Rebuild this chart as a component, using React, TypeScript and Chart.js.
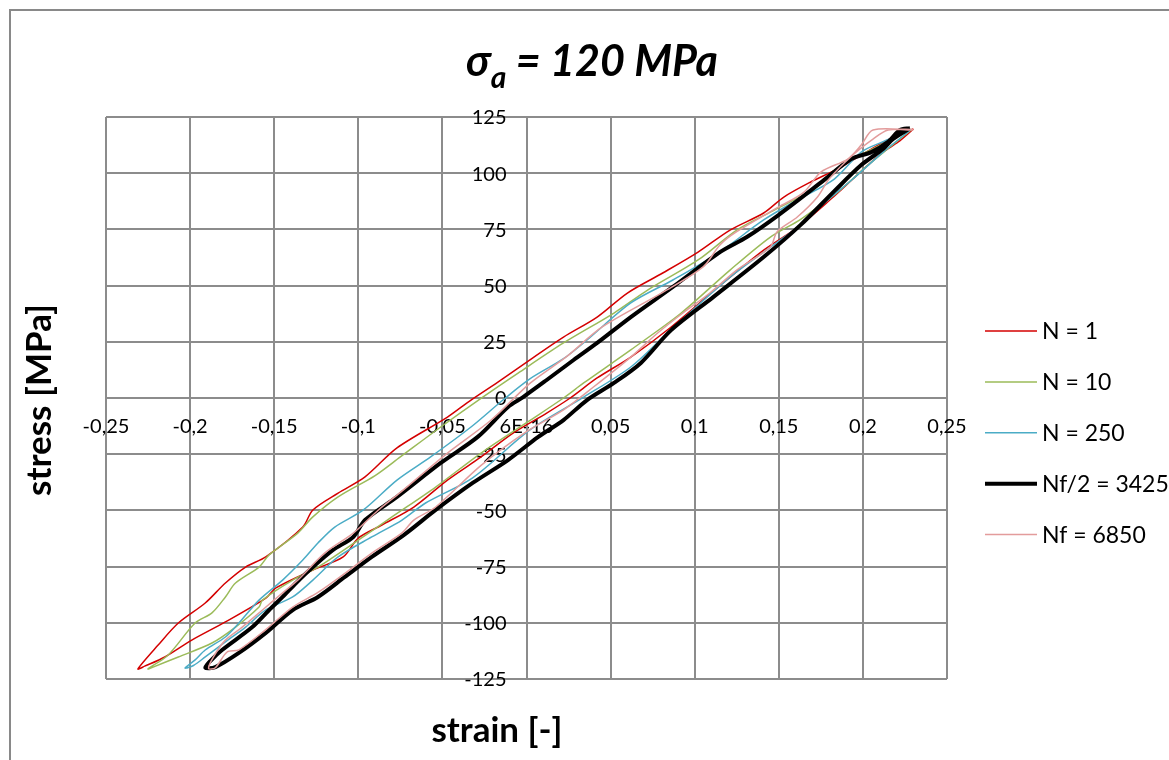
import { useEffect, useRef } from "react";
import { Chart, registerables } from "chart.js";

Chart.register(...registerables);

const FONT = "Lato, 'Open Sans', sans-serif";
const GRID = "#8c8c8c";

const titleSymbol = "σ";
const titleSub = "a";
const titleRest = " = 120 MPa";
const xTitle = "strain [-]";
const yTitle = "stress [MPa]";

const xTickLabels = ["-0,25", "-0,2", "-0,15", "-0,1", "-0,05", "6E-16", "0,05", "0,1", "0,15", "0,2", "0,25"];
const yTickLabels = ["-125", "-100", "-75", "-50", "-25", "0", "25", "50", "75", "100", "125"];

const seriesLabels = ["N = 1", "N = 10", "N = 250", "Nf/2 = 3425", "Nf = 6850"];
const seriesColors = ["#d40000", "#9bbb59", "#4bacc6", "#000000", "#e39c9c"];
const seriesWidths = [1.5, 1.5, 1.5, 4, 1.5];

// N = 1 : unloading branch (top -> bottom) then loading branch (bottom -> top)
const n1: number[][] = [
  [0.230, 119.7], [0.221, 117.0], [0.209, 112.5], [0.199, 108.1], [0.185, 101.9], [0.169, 96.1],
  [0.153, 89.4], [0.141, 82.3], [0.121, 74.7], [0.102, 64.9], [0.081, 55.6], [0.060, 46.7],
  [0.042, 36.0], [0.022, 27.1], [0.004, 18.0], [-0.017, 7.1], [-0.033, -0.9], [-0.047, -8.5],
  [-0.077, -22.2], [-0.096, -35.1], [-0.112, -42.3], [-0.127, -49.8], [-0.133, -57.4],
  [-0.155, -70.7], [-0.167, -75.2], [-0.179, -82.3], [-0.191, -91.2], [-0.207, -100.1],
  [-0.219, -109.9], [-0.231, -120.5],
  [-0.227, -119.3], [-0.215, -115.2], [-0.199, -107.7], [-0.179, -99.6], [-0.155, -89.0],
  [-0.149, -84.5], [-0.127, -76.5], [-0.109, -70.7], [-0.100, -62.3], [-0.086, -56.5],
  [-0.067, -48.5], [-0.047, -36.5], [-0.027, -26.2], [-0.008, -15.6], [0.012, -6.7], [0.026, 0.0],
  [0.042, 8.9], [0.062, 18.2], [0.086, 31.6], [0.114, 49.4], [0.141, 65.8], [0.161, 75.8],
  [0.181, 88.5], [0.194, 97.4], [0.203, 103.6], [0.212, 109.4], [0.221, 113.9], [0.230, 119.7],
];

const n10: number[][] = [
  [0.229, 119.5], [0.205, 110.5], [0.191, 105.0], [0.171, 93.0], [0.145, 82.7], [0.125, 74.7],
  [0.102, 61.4], [0.072, 48.0], [0.052, 37.8], [0.022, 24.5], [-0.005, 11.1], [-0.026, 0.4],
  [-0.051, -12.9], [-0.075, -26.2], [-0.090, -34.5], [-0.112, -44.0], [-0.127, -52.9],
  [-0.136, -60.1], [-0.153, -69.8], [-0.159, -75.2], [-0.173, -82.3], [-0.179, -88.5],
  [-0.187, -95.6], [-0.197, -100.1], [-0.213, -114.3], [-0.225, -120.5],
  [-0.222, -119.7], [-0.207, -115.2], [-0.187, -109.0], [-0.173, -101.9], [-0.159, -93.0],
  [-0.157, -89.9], [-0.139, -81.0], [-0.124, -75.2], [-0.100, -63.2], [-0.080, -52.9],
  [-0.054, -39.6], [-0.027, -24.5], [0.000, -11.0], [0.022, 0.0], [0.034, 6.7], [0.062, 21.4],
  [0.092, 37.8], [0.121, 56.9], [0.145, 71.6], [0.163, 79.5], [0.185, 91.6], [0.203, 103.6],
  [0.215, 111.0], [0.229, 119.5],
];

const n250: number[][] = [
  [0.228, 119.0], [0.212, 114.0], [0.199, 109.4], [0.183, 97.4], [0.161, 88.1], [0.141, 79.2],
  [0.114, 64.5], [0.087, 52.5], [0.062, 42.3], [0.036, 25.8], [0.022, 17.5], [0.002, 8.5],
  [-0.014, -0.9], [-0.033, -12.9], [-0.057, -26.2], [-0.077, -36.5], [-0.097, -49.8],
  [-0.114, -57.4], [-0.124, -64.5], [-0.133, -72.1], [-0.145, -81.0], [-0.159, -89.9],
  [-0.171, -100.1], [-0.179, -106.3], [-0.191, -112.1], [-0.197, -116.5], [-0.203, -120.1],
  [-0.198, -119.0], [-0.191, -115.2], [-0.175, -106.3], [-0.167, -101.9], [-0.155, -94.3],
  [-0.139, -88.5], [-0.127, -81.0], [-0.112, -70.7], [-0.092, -61.8], [-0.074, -54.3],
  [-0.060, -46.7], [-0.032, -35.5], [0.002, -14.2], [0.034, 0.4], [0.062, 13.8], [0.084, 29.0],
  [0.121, 53.8], [0.151, 70.3], [0.165, 78.3], [0.177, 86.7], [0.194, 97.4], [0.212, 109.4],
  [0.228, 119.0],
];

const nHalf: number[][] = [
  [0.228, 120.0], [0.222, 119.2], [0.215, 113.9], [0.205, 109.4], [0.193, 106.3], [0.177, 97.0],
  [0.150, 81.5], [0.131, 71.6], [0.115, 64.9], [0.087, 49.4], [0.062, 36.0], [0.042, 24.5],
  [0.028, 16.9], [0.012, 8.0], [-0.002, 0.4], [-0.011, -4.0], [-0.029, -17.3], [-0.051, -28.9],
  [-0.077, -44.0], [-0.096, -54.3], [-0.103, -61.8], [-0.115, -67.6], [-0.127, -75.2],
  [-0.137, -82.3], [-0.145, -88.5], [-0.153, -94.3], [-0.163, -101.9], [-0.181, -112.1],
  [-0.188, -117.0], [-0.191, -120.0],
  [-0.185, -119.7], [-0.171, -113.4], [-0.155, -104.5], [-0.139, -94.3], [-0.124, -88.5],
  [-0.108, -79.6], [-0.092, -70.7], [-0.073, -61.0], [-0.054, -49.8], [-0.032, -37.8],
  [-0.011, -27.6], [0.007, -17.3], [0.022, -9.8], [0.036, -0.9], [0.052, 6.7], [0.068, 15.6],
  [0.086, 30.2], [0.111, 44.9], [0.141, 62.7], [0.163, 77.0], [0.183, 92.0], [0.199, 103.6],
  [0.212, 110.8], [0.218, 115.2], [0.228, 120.0],
];

const nf: number[][] = [
  [0.230, 119.2], [0.206, 119.2], [0.199, 112.5], [0.191, 106.3], [0.175, 100.5], [0.165, 91.6],
  [0.150, 85.0], [0.125, 74.0], [0.115, 68.1], [0.105, 58.3], [0.081, 47.0], [0.045, 31.6],
  [0.024, 18.5], [0.002, 6.5], [-0.021, -9.8], [-0.047, -24.5], [-0.075, -42.0], [-0.088, -49.8],
  [-0.103, -60.1], [-0.120, -69.0], [-0.136, -81.0], [-0.145, -86.7], [-0.157, -94.3],
  [-0.169, -101.9], [-0.179, -107.7], [-0.186, -115.0], [-0.189, -120.3],
  [-0.185, -120.0], [-0.178, -113.0], [-0.171, -112.0], [-0.155, -103.0], [-0.139, -93.0],
  [-0.124, -86.5], [-0.108, -78.0], [-0.092, -69.0], [-0.074, -60.0], [-0.067, -54.3],
  [-0.054, -48.5], [-0.027, -30.0], [0.000, -15.0], [0.022, -5.3], [0.040, 5.0], [0.062, 18.2],
  [0.078, 28.9], [0.093, 37.8], [0.109, 46.7], [0.125, 56.9], [0.145, 67.2], [0.149, 74.0],
  [0.161, 80.5], [0.173, 89.4], [0.180, 97.5], [0.194, 108.1], [0.206, 115.2], [0.215, 119.2],
  [0.230, 119.5],
];

const seriesData = [n1, n10, n250, nHalf, nf];
// Excel draws later series on top: lower "order" is drawn last in Chart.js
const seriesOrder = [5, 4, 3, 2, 1];

const TICK_FONT = `20px ${FONT}`;

const decorPlugin = {
  id: "decor",
  beforeDatasetsDraw(chart: any) {
    // y tick labels, to the left of the centred y axis
    const ctx: CanvasRenderingContext2D = chart.ctx;
    const ys = chart.scales.y;
    const xs = chart.scales.x;
    const axisX = xs.getPixelForValue(0);
    ctx.save();
    ctx.fillStyle = "#000";
    ctx.font = TICK_FONT;
    ctx.textAlign = "right";
    ctx.textBaseline = "middle";
    ys.ticks.forEach((t: any, i: number) => {
      ctx.fillText(yTickLabels[i], axisX - 20, ys.getPixelForValue(t.value) + 1);
    });
    ctx.restore();
  },
  afterDraw(chart: any) {
    const ctx: CanvasRenderingContext2D = chart.ctx;
    ctx.save();
    ctx.fillStyle = "#000";

    // Title with subscript
    const mainFont = `italic bold 43px ${FONT}`;
    const subFont = `italic bold 30px ${FONT}`;
    ctx.font = mainFont;
    const w1 = ctx.measureText(titleSymbol).width;
    const w3 = ctx.measureText(titleRest).width;
    ctx.font = subFont;
    const w2 = ctx.measureText(titleSub).width;
    let x = 592 - (w1 + w2 + w3) / 2;
    ctx.textBaseline = "alphabetic";
    ctx.textAlign = "left";
    ctx.font = mainFont;
    ctx.fillText(titleSymbol, x, 76);
    x += w1;
    ctx.font = subFont;
    ctx.fillText(titleSub, x, 88);
    x += w2;
    ctx.font = mainFont;
    ctx.fillText(titleRest, x, 76);

    // Axis titles
    ctx.font = `bold 35px ${FONT}`;
    ctx.textAlign = "center";
    ctx.textBaseline = "middle";
    ctx.fillText(xTitle, 497, 731);
    ctx.save();
    ctx.translate(40, 400);
    ctx.rotate(-Math.PI / 2);
    ctx.fillText(yTitle, 0, 0);
    ctx.restore();

    // Legend
    ctx.font = `23px ${FONT}`;
    ctx.textAlign = "left";
    chart.data.datasets.forEach((ds: any, i: number) => {
      const y = 331 + i * 50.9;
      ctx.beginPath();
      ctx.strokeStyle = ds.borderColor;
      ctx.lineWidth = ds.borderWidth;
      ctx.moveTo(985, y);
      ctx.lineTo(1037, y);
      ctx.stroke();
      ctx.fillText(ds.label, 1042, y + 1);
    });
    ctx.restore();
  },
};

export default function App() {
  const ref = useRef<HTMLCanvasElement | null>(null);

  useEffect(() => {
    if (!ref.current) return;
    const chart = new Chart(ref.current, {
      type: "scatter",
      data: {
        datasets: seriesData.map((pts, i) => ({
          label: seriesLabels[i],
          data: pts.map((p) => ({ x: p[0], y: p[1] })),
          showLine: true,
          borderColor: seriesColors[i],
          backgroundColor: seriesColors[i],
          borderWidth: seriesWidths[i],
          pointRadius: 0,
          tension: 0.3,
          order: seriesOrder[i],
        })),
      },
      options: {
        responsive: false,
        animation: false,
        devicePixelRatio: 1,
        layout: { padding: { left: 106, right: 222, top: 117, bottom: 81 } },
        plugins: {
          legend: { display: false },
          title: { display: false },
          tooltip: { enabled: false },
        },
        scales: {
          x: {
            type: "linear",
            position: { y: 0 } as any,
            min: -0.25,
            max: 0.25,
            ticks: {
              stepSize: 0.05,
              autoSkip: false,
              maxRotation: 0,
              padding: 17,
              color: "#000",
              font: { family: FONT, size: 20 },
              callback: (_v: any, i: number) => xTickLabels[i],
            },
            grid: { color: GRID, lineWidth: 2, drawTicks: false },
            border: { color: GRID, width: 2 },
          },
          y: {
            type: "linear",
            position: { x: 0 } as any,
            min: -125,
            max: 125,
            ticks: {
              stepSize: 25,
              autoSkip: false,
              display: false,
            },
            grid: { color: GRID, lineWidth: 2, drawTicks: false },
            border: { color: GRID, width: 2 },
          },
        },
      },
      plugins: [decorPlugin],
    });
    return () => chart.destroy();
  }, []);

  return (
    <>
      <div
        style={{
          position: "fixed",
          left: 9,
          top: 9,
          right: 0,
          bottom: 0,
          borderLeft: "2px solid #898989",
          borderTop: "2px solid #898989",
        }}
      />
      <canvas
        ref={ref}
        width={1169}
        height={760}
        style={{ position: "fixed", left: 0, top: 0, width: 1169, height: 760, display: "block" }}
      />
    </>
  );
}
